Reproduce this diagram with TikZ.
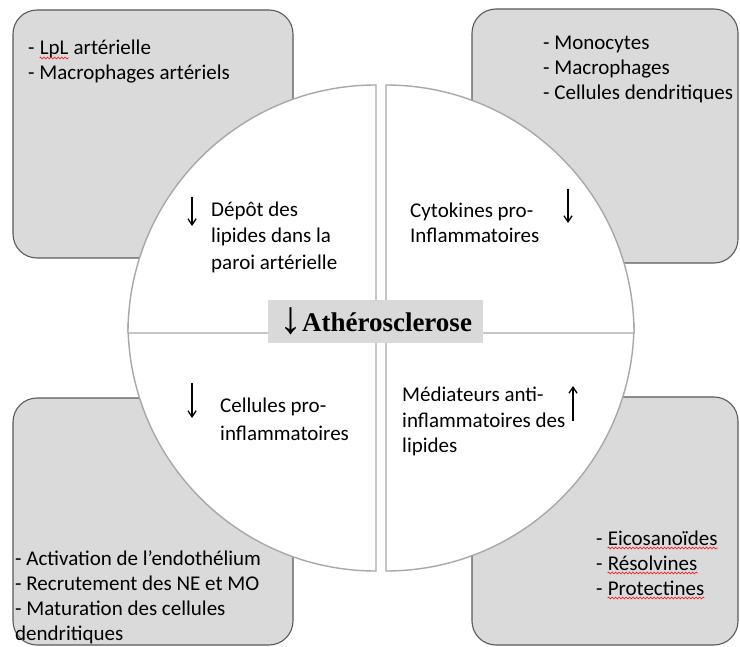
\documentclass[tikz,border=0pt]{standalone}
\usepackage{fontspec}
\setmainfont{Carlito}
\newfontfamily\titlefont{Liberation Serif}
\usetikzlibrary{arrows.meta,decorations.pathmorphing}
\definecolor{boxfill}{HTML}{DADADA}
\definecolor{boxline}{HTML}{5A5A5A}
\definecolor{quadline}{HTML}{A8A8A8}
\definecolor{labelfill}{HTML}{D9D9D9}
\begin{document}
\begin{tikzpicture}[x=1pt,y=-1pt,
  graybox/.style={fill=boxfill,draw=boxline,line width=1.1pt,rounded corners=24pt},
  quad/.style={fill=white,draw=quadline,line width=1.4pt},
  txt/.style={anchor=base west,inner sep=0pt,font=\fontsize{21}{25}\selectfont},
  trend/.style={line width=1.3pt,-{Straight Barb[length=6pt,width=8pt]}},
  spell/.style={draw=red,line width=0.6pt,decorate,decoration={snake,amplitude=0.9pt,segment length=3.5pt}}]
\useasboundingbox[fill=white] (0,0) rectangle (740,647);
% corner boxes
\draw[graybox] (13,10) rectangle (293,258);
\draw[graybox] (472,9) rectangle (738,263);
\draw[graybox] (13,398) rectangle (293,645);
\draw[graybox] (472,397) rectangle (738,645);
% quadrants
\draw[quad] (376,323) -- ++(-248,0) arc[start angle=180,end angle=90,radius=248] -- cycle;
\draw[quad] (386,323) -- ++(248,0) arc[start angle=0,end angle=90,radius=248] -- cycle;
\draw[quad] (376,333) -- ++(-248,0) arc[start angle=180,end angle=270,radius=248] -- cycle;
\draw[quad] (386,333) -- ++(248,0) arc[start angle=0,end angle=-90,radius=248] -- cycle;
% centre label
\node[fill=labelfill,minimum width=215pt,minimum height=43pt,inner sep=0pt] (athero) at (375.5,321.5)
  {\titlefont\bfseries\fontsize{27}{30}\selectfont\raisebox{-2pt}{\fontsize{46}{46}\selectfont ↓}Athérosclerose};
% top-left box
\node[txt] (tl1a) at (28,55) {-\ \null};
\node[txt] (tl1b) at (tl1a.base east) {LpL};
\node[txt] (tl1c) at (tl1b.base east) {\ artérielle};
\node[txt] (tl2) at (28,80) {- Macrophages artériels};
% top-right box
\node[txt] (tr1) at (543,50) {- Monocytes};
\node[txt] (tr2) at (543,75) {- Macrophages};
\node[txt] (tr3) at (543,100) {- Cellules dendritiques};
% bottom-left box
\node[txt] (bl1) at (15,565) {- Activation de l’endothélium};
\node[txt] (bl2) at (15,590) {- Recrutement des NE et MO};
\node[txt] (bl3) at (15,615) {- Maturation des cellules};
\node[txt] (bl4) at (15,640) {dendritiques};
% bottom-right box
\node[txt] (br1a) at (596,545) {-\ \null};
\node[txt] (br1b) at (br1a.base east) {Eicosanoïdes};
\node[txt] (br2a) at (596,570) {-\ \null};
\node[txt] (br2b) at (br2a.base east) {Résolvines};
\node[txt] (br3a) at (596,595) {-\ \null};
\node[txt] (br3b) at (br3a.base east) {Protectines};
% spelling marks
\draw[spell] ([yshift=-3pt]tl1b.base west) -- ([yshift=-3pt]tl1b.base east);
\draw[spell] ([yshift=-3pt]br1b.base west) -- ([yshift=-3pt]br1b.base east);
\draw[spell] ([yshift=-3pt]br2b.base west) -- ([yshift=-3pt]br2b.base east);
\draw[spell] ([yshift=-3pt]br3b.base west) -- ([yshift=-3pt]br3b.base east);
% quadrant texts
\node[txt] (q11) at (211,217) {Dépôt des};
\node[txt] (q12) at (211,243) {lipides dans la};
\node[txt] (q13) at (211,270) {paroi artérielle};
\node[txt] (q21) at (410,218) {Cytokines pro-};
\node[txt] (q22) at (410,243) {Inflammatoires};
\node[txt] (q31) at (220,413) {Cellules pro-};
\node[txt] (q32) at (220,440) {inflammatoires};
\node[txt] (q41) at (402,402) {Médiateurs anti-};
\node[txt] (q42) at (402,428) {inflammatoires des};
\node[txt] (q43) at (402,453) {lipides};
% trend arrows
\coordinate (a1s) at (192,197); \coordinate (a1e) at (192,226);
\coordinate (a2s) at (568,189); \coordinate (a2e) at (568,223);
\coordinate (a3s) at (192,383); \coordinate (a3e) at (192,418);
\coordinate (a4s) at (573,421); \coordinate (a4e) at (573,386);
\draw[trend] (a1s) -- (a1e);
\draw[trend] (a2s) -- (a2e);
\draw[trend] (a3s) -- (a3e);
\draw[trend] (a4s) -- (a4e);
\end{tikzpicture}
\end{document}
